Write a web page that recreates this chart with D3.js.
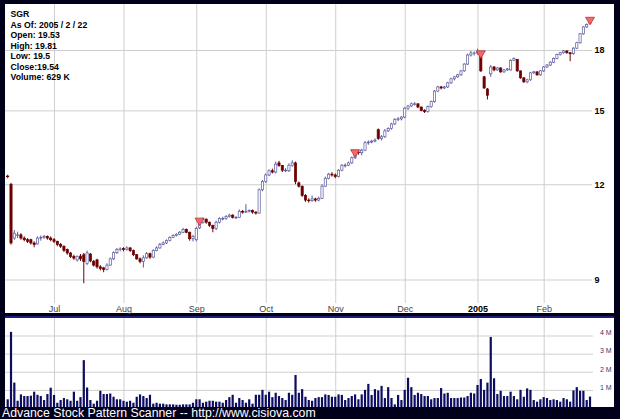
<!DOCTYPE html>
<html><head><meta charset="utf-8">
<script src="https://cdn.jsdelivr.net/npm/d3@7"></script>
<style>html,body{margin:0;padding:0;background:#00001a;}svg{display:block}</style>
</head><body>
<svg id="c" width="620" height="419"></svg>
<script>
const dates = [
"2004-06-10","2004-06-14","2004-06-15","2004-06-16","2004-06-17","2004-06-18","2004-06-21","2004-06-22","2004-06-23","2004-06-24","2004-06-25","2004-06-28","2004-06-29","2004-06-30",
"2004-07-01","2004-07-02","2004-07-06","2004-07-07","2004-07-08","2004-07-09","2004-07-12","2004-07-13","2004-07-14","2004-07-15","2004-07-16","2004-07-19","2004-07-20","2004-07-21","2004-07-22","2004-07-23","2004-07-26","2004-07-27","2004-07-28","2004-07-29","2004-07-30",
"2004-08-02","2004-08-03","2004-08-04","2004-08-05","2004-08-06","2004-08-09","2004-08-10","2004-08-11","2004-08-12","2004-08-13","2004-08-16","2004-08-17","2004-08-18","2004-08-19","2004-08-20","2004-08-23","2004-08-24","2004-08-25","2004-08-26","2004-08-27","2004-08-30","2004-08-31",
"2004-09-01","2004-09-02","2004-09-03","2004-09-07","2004-09-08","2004-09-09","2004-09-10","2004-09-13","2004-09-14","2004-09-15","2004-09-16","2004-09-17","2004-09-20","2004-09-21","2004-09-22","2004-09-23","2004-09-24","2004-09-27","2004-09-28","2004-09-29","2004-09-30",
"2004-10-01","2004-10-04","2004-10-05","2004-10-06","2004-10-07","2004-10-08","2004-10-11","2004-10-12","2004-10-13","2004-10-14","2004-10-15","2004-10-18","2004-10-19","2004-10-20","2004-10-21","2004-10-22","2004-10-25","2004-10-26","2004-10-27","2004-10-28","2004-10-29",
"2004-11-01","2004-11-02","2004-11-03","2004-11-04","2004-11-05","2004-11-08","2004-11-09","2004-11-10","2004-11-11","2004-11-12","2004-11-15","2004-11-16","2004-11-17","2004-11-18","2004-11-19","2004-11-22","2004-11-23","2004-11-24","2004-11-26","2004-11-29","2004-11-30",
"2004-12-01","2004-12-02","2004-12-03","2004-12-06","2004-12-07","2004-12-08","2004-12-09","2004-12-10","2004-12-13","2004-12-14","2004-12-15","2004-12-16","2004-12-17","2004-12-20","2004-12-21","2004-12-22","2004-12-23","2004-12-27","2004-12-28","2004-12-29","2004-12-30","2004-12-31",
"2005-01-03","2005-01-04","2005-01-05","2005-01-06","2005-01-07","2005-01-10","2005-01-11","2005-01-12","2005-01-13","2005-01-14","2005-01-18","2005-01-19","2005-01-20","2005-01-21","2005-01-24","2005-01-25","2005-01-26","2005-01-27","2005-01-28","2005-01-31",
"2005-02-01","2005-02-02","2005-02-03","2005-02-04","2005-02-07","2005-02-08","2005-02-09","2005-02-10","2005-02-11","2005-02-14","2005-02-15","2005-02-16","2005-02-17","2005-02-18","2005-02-22"
];
const open = [
12.30,12.00,10.20,10.30,10.30,10.20,10.15,10.15,10.05,10.02,
10.20,10.22,10.25,10.20,10.15,10.10,10.00,9.95,9.85,9.75,
9.65,9.55,9.66,9.70,9.45,9.72,9.50,9.55,9.35,9.32,
9.28,9.40,9.58,9.76,9.85,9.88,9.85,9.90,9.82,9.70,
9.58,9.50,9.61,9.73,9.63,9.82,9.90,10.00,10.05,10.13,
10.22,10.28,10.32,10.38,10.47,10.38,10.18,10.15,10.52,10.70,
10.80,10.70,10.60,10.50,10.70,10.82,10.82,10.89,10.93,10.86,
10.86,11.06,11.03,11.06,11.09,11.03,11.00,11.80,12.10,12.34,
12.50,12.45,12.80,12.70,12.52,12.50,12.71,12.80,12.05,11.93,
11.60,11.44,11.42,11.48,11.44,11.50,11.93,12.22,12.37,12.34,
12.28,12.52,12.71,12.71,12.80,13.00,13.23,13.20,13.30,13.60,
13.63,13.67,14.15,13.78,13.85,14.10,14.20,14.40,14.60,14.62,
14.70,15.10,15.20,15.30,15.30,15.15,15.00,14.95,15.17,15.40,
15.90,16.10,16.05,16.10,16.30,16.50,16.60,16.70,16.90,17.25,
17.73,17.84,17.84,17.80,16.60,16.00,16.75,17.10,16.95,17.05,
16.85,16.95,16.95,17.45,17.50,16.90,16.55,16.35,16.45,16.80,
16.85,16.70,16.90,17.10,17.20,17.35,17.55,17.75,17.85,17.95,
17.85,17.80,18.10,18.40,18.90,19.30,19.53
];
const high = [
12.35,12.05,10.45,10.40,10.35,10.25,10.20,10.18,10.10,10.25,
10.28,10.30,10.28,10.25,10.20,10.12,10.05,9.98,9.88,9.78,
9.70,9.68,9.72,9.75,9.82,9.75,9.55,9.58,9.40,9.35,
9.45,9.62,9.80,9.90,9.92,9.92,9.95,9.93,9.85,9.72,
9.62,9.68,9.78,9.76,9.86,9.95,10.05,10.10,10.16,10.25,
10.32,10.35,10.42,10.52,10.50,10.40,10.30,10.55,10.80,10.85,
10.82,10.72,10.62,10.75,10.86,10.88,10.93,10.98,10.96,10.90,
11.12,11.10,11.30,11.12,11.12,11.06,11.85,12.15,12.40,12.55,
12.58,12.85,12.88,12.72,12.60,12.78,12.90,12.85,12.10,11.95,
11.65,11.50,11.60,11.52,11.56,12.00,12.28,12.42,12.45,12.40,
12.56,12.75,12.78,12.85,13.05,13.28,13.30,13.36,13.68,13.70,
13.72,13.78,14.20,13.92,14.18,14.25,14.45,14.65,14.70,14.75,
15.15,15.25,15.36,15.38,15.32,15.18,15.05,15.22,15.45,15.95,
16.15,16.15,16.15,16.35,16.55,16.65,16.75,16.95,17.30,17.80,
17.95,17.92,18.07,17.90,16.65,16.05,17.20,17.15,17.10,17.08,
17.00,17.05,17.50,17.60,17.52,16.92,16.58,16.50,16.85,16.90,
16.88,16.95,17.15,17.25,17.40,17.60,17.80,17.90,18.00,17.98,
17.88,18.15,18.45,18.95,19.35,19.50,19.81
];
const low = [
12.22,10.00,10.15,10.20,10.15,10.10,10.05,10.00,9.92,10.00,
10.12,10.18,10.15,10.10,10.05,9.95,9.90,9.78,9.70,9.60,
9.55,9.50,9.52,8.90,9.40,9.48,9.36,9.30,9.25,9.20,
9.25,9.38,9.55,9.72,9.80,9.80,9.82,9.78,9.66,9.55,
9.45,9.33,9.58,9.58,9.60,9.80,9.88,9.98,10.02,10.10,
10.20,10.25,10.30,10.35,10.35,10.12,10.10,10.10,10.48,10.65,
10.65,10.55,10.38,10.45,10.66,10.76,10.78,10.85,10.82,10.80,
10.84,10.98,11.00,11.02,10.98,10.95,10.98,11.75,12.05,12.30,
12.40,12.40,12.65,12.45,12.45,12.45,12.65,12.00,11.88,11.55,
11.38,11.35,11.38,11.38,11.40,11.48,11.90,12.18,12.28,12.22,
12.25,12.48,12.62,12.68,12.76,12.95,13.12,13.10,13.26,13.52,
13.58,13.62,13.72,13.70,13.80,14.05,14.15,14.35,14.52,14.55,
14.65,15.02,15.15,15.22,15.10,14.96,14.88,14.90,15.12,15.35,
15.85,15.98,16.00,16.05,16.25,16.42,16.55,16.65,16.85,17.20,
17.65,17.70,17.75,16.85,16.00,15.50,16.60,16.88,16.90,16.80,
16.80,16.90,16.92,17.40,16.85,16.50,16.30,16.28,16.40,16.75,
16.65,16.65,16.85,17.05,17.15,17.30,17.50,17.70,17.80,17.80,
17.40,17.75,18.05,18.35,18.85,19.25,19.50
];
const close = [
12.28,10.05,10.35,10.30,10.20,10.15,10.10,10.05,10.00,10.20,
10.22,10.25,10.20,10.15,10.10,10.00,9.95,9.83,9.75,9.65,
9.60,9.64,9.58,9.50,9.75,9.52,9.40,9.35,9.30,9.28,
9.40,9.58,9.76,9.85,9.87,9.85,9.90,9.82,9.70,9.58,
9.50,9.61,9.73,9.63,9.82,9.90,10.00,10.05,10.13,10.22,
10.28,10.32,10.38,10.47,10.38,10.18,10.25,10.50,10.70,10.80,
10.70,10.60,10.50,10.70,10.82,10.82,10.89,10.93,10.86,10.86,
11.06,11.03,11.06,11.09,11.03,11.00,11.80,12.10,12.34,12.50,
12.45,12.75,12.70,12.52,12.52,12.71,12.80,12.10,11.93,11.60,
11.44,11.42,11.48,11.44,11.50,11.93,12.22,12.37,12.34,12.28,
12.52,12.71,12.71,12.80,13.00,13.23,13.20,13.30,13.60,13.63,
13.67,13.71,13.78,13.85,14.10,14.20,14.40,14.60,14.62,14.70,
15.10,15.20,15.30,15.30,15.15,15.00,14.95,15.17,15.40,15.90,
16.10,16.05,16.10,16.30,16.50,16.60,16.70,16.90,17.25,17.73,
17.84,17.84,17.90,16.90,16.05,15.70,17.10,16.95,17.05,16.85,
16.95,17.00,17.45,17.55,16.90,16.55,16.35,16.45,16.80,16.85,
16.70,16.90,17.10,17.20,17.35,17.55,17.75,17.85,17.95,17.85,
17.80,18.10,18.40,18.90,19.30,19.45,19.54
];
const volume = [
0.48,4.2,1.4,0.4,0.75,0.66,0.66,0.68,0.9,0.73,
0.66,0.44,0.77,1.12,0.72,0.29,0.44,0.55,0.48,0.4,
0.9,0.4,0.6,2.64,1.13,0.44,0.24,0.4,0.95,0.77,
0.77,0.8,0.62,0.48,0.48,0.4,0.35,0.4,0.29,0.62,
0.75,0.66,0.55,0.73,0.24,0.29,0.24,0.24,0.2,0.2,
0.2,0.18,0.18,0.2,0.2,0.2,0.29,0.48,0.48,0.29,
0.35,0.4,0.4,0.35,0.35,0.29,0.44,0.6,0.73,0.29,
0.55,0.44,0.29,0.48,0.24,0.73,0.73,1.0,0.73,0.9,
0.6,0.84,0.66,0.55,0.44,0.84,0.73,1.82,0.84,1.04,
0.62,0.44,0.4,0.55,0.6,0.6,0.75,0.72,0.62,0.62,
0.75,0.72,0.44,0.55,0.66,0.75,0.48,0.75,1.0,1.33,
0.72,1.04,0.97,1.22,0.55,1.15,0.55,0.2,0.72,0.44,
1.0,1.67,1.15,0.72,0.84,0.77,0.66,0.66,0.48,0.55,
0.55,1.1,0.8,0.84,0.55,0.55,0.55,0.58,0.58,0.66,
0.84,0.8,1.27,1.6,1.0,1.4,3.92,1.64,0.77,0.95,
0.66,0.66,0.9,0.66,0.48,1.0,0.62,1.08,1.0,0.44,
0.35,0.48,0.6,0.55,0.44,0.48,0.44,0.35,0.55,0.48,
0.35,0.97,1.15,0.95,0.95,0.44,0.629
];
const signalDates = ["2004-09-02","2004-11-09","2005-01-04","2005-02-22"];
const monthLabels = ["Jul","Aug","Sep","Oct","Nov","Dec","2005","Feb"];
const priceTicks = [9, 12, 15, 18];
const volumeTicks = [1, 2, 3, 4];
const infoLines = ["SGR","As Of: 2005 / 2 / 22","Open: 19.53","High: 19.81","Low: 19.5","Close:19.54","Volume: 629 K"];
const footer = "Advance Stock Pattern Scanner -- http://www.cisiova.com";

const FONT = "'Liberation Sans', Arial, sans-serif";
const svg = d3.select("#c");
svg.append("rect").attr("width",620).attr("height",419).attr("fill","#00001a");
svg.append("rect").attr("x",5).attr("y",4).attr("width",609).attr("height",309).attr("fill","#ffffff");
svg.append("rect").attr("x",5).attr("y",318).attr("width",609).attr("height",89).attr("fill","#ffffff");
svg.append("rect").attr("x",5).attr("y",316).attr("width",609).attr("height",2).attr("fill","#1c1c7a");

const data = dates.map((d,i)=>({d, o:open[i], h:high[i], l:low[i], c:close[i], v:volume[i]}));
const x = d3.scalePoint().domain(dates).range([7.7, 590]);
const y = d3.scaleLog().domain([9,18]).range([279.5,50]);
const yv = d3.scaleLinear().domain([0,4]).range([408,335.5]);

const monthStarts = dates.filter((d,i)=> i>0 && d.slice(0,7)!==dates[i-1].slice(0,7));
const GRID = "#cfcfcf";

const gx = svg.append("g").attr("transform","translate(0,303)")
  .call(d3.axisBottom(x).tickValues(monthStarts).tickSize(-299).tickPadding(2.5)
    .tickFormat((d,i)=>monthLabels[i]));
gx.select(".domain").remove();
gx.selectAll("line").attr("stroke",GRID);
gx.selectAll("text").attr("font-family",FONT).attr("font-size",9)
  .attr("fill",(d,i)=>monthLabels[i]==="2005"?"#000":"#444")
  .attr("font-weight",(d,i)=>monthLabels[i]==="2005"?"bold":"normal");

const gxv = svg.append("g").attr("transform","translate(0,407)")
  .call(d3.axisBottom(x).tickValues(monthStarts).tickSize(-89).tickFormat(""));
gxv.select(".domain").remove();
gxv.selectAll("line").attr("stroke",GRID);

const gy = svg.append("g").attr("transform","translate(592,0)")
  .call(d3.axisRight(y).tickValues(priceTicks).tickSize(-587).tickPadding(2.5).tickFormat(d3.format("d")));
gy.select(".domain").remove();
gy.selectAll("line").attr("stroke",GRID);
gy.selectAll("text").attr("font-family",FONT).attr("font-size",9).attr("font-weight","bold").attr("fill","#000");

const gv = svg.append("g").attr("transform","translate(593,0)")
  .call(d3.axisRight(yv).tickValues(volumeTicks).tickSize(-588).tickPadding(7).tickFormat(d=>d+" M"));
gv.select(".domain").remove();
gv.selectAll("line").attr("stroke",GRID);
gv.selectAll("text").attr("font-family",FONT).attr("font-size",7).attr("fill","#3a3a6a").attr("dy","-0.1em");

const UP = "#5a5a9e", DN = "#6e0000";
const cg = svg.append("g");
cg.selectAll("line").data(data).join("line")
  .attr("x1",d=>x(d.d)).attr("x2",d=>x(d.d))
  .attr("y1",d=>y(d.h)).attr("y2",d=>y(d.l))
  .attr("stroke",d=>d.c>=d.o?UP:DN).attr("stroke-width",1);
cg.selectAll("rect").data(data).join("rect")
  .attr("x",d=>x(d.d)-1.1).attr("width",2.2)
  .attr("y",d=>y(Math.max(d.o,d.c)))
  .attr("height",d=>Math.max(Math.abs(y(d.o)-y(d.c)),0.6))
  .attr("fill",d=>d.c>=d.o?"#ffffff":DN)
  .attr("stroke",d=>d.c>=d.o?UP:DN).attr("stroke-width",0.7);

const sig = data.filter(d=>signalDates.includes(d.d));
svg.append("g").selectAll("path").data(sig).join("path")
  .attr("d",d=>{const cx=x(d.d), t=y(d.h)-1; return `M${cx-4.5},${t}L${cx+4.5},${t}L${cx},${t+7.5}Z`;})
  .attr("fill","#f26a6a").attr("stroke","#b83030").attr("stroke-width",0.8);

svg.append("g").selectAll("rect").data(data).join("rect")
  .attr("x",d=>x(d.d)-1.1).attr("width",2.2)
  .attr("y",d=>yv(d.v)).attr("height",d=>407-yv(d.v))
  .attr("fill","#0c0c60");

svg.append("g").selectAll("text").data(infoLines).join("text")
  .attr("x",10.5).attr("y",(d,i)=>17.3+i*10.45)
  .attr("font-family",FONT).attr("font-size",8.7).attr("font-weight","bold").attr("fill","#000")
  .text(d=>d);

svg.append("text").attr("x",2).attr("y",417).attr("font-family",FONT).attr("font-size",12.3)
  .attr("fill","#ffffff").text(footer);
</script>
</body></html>
